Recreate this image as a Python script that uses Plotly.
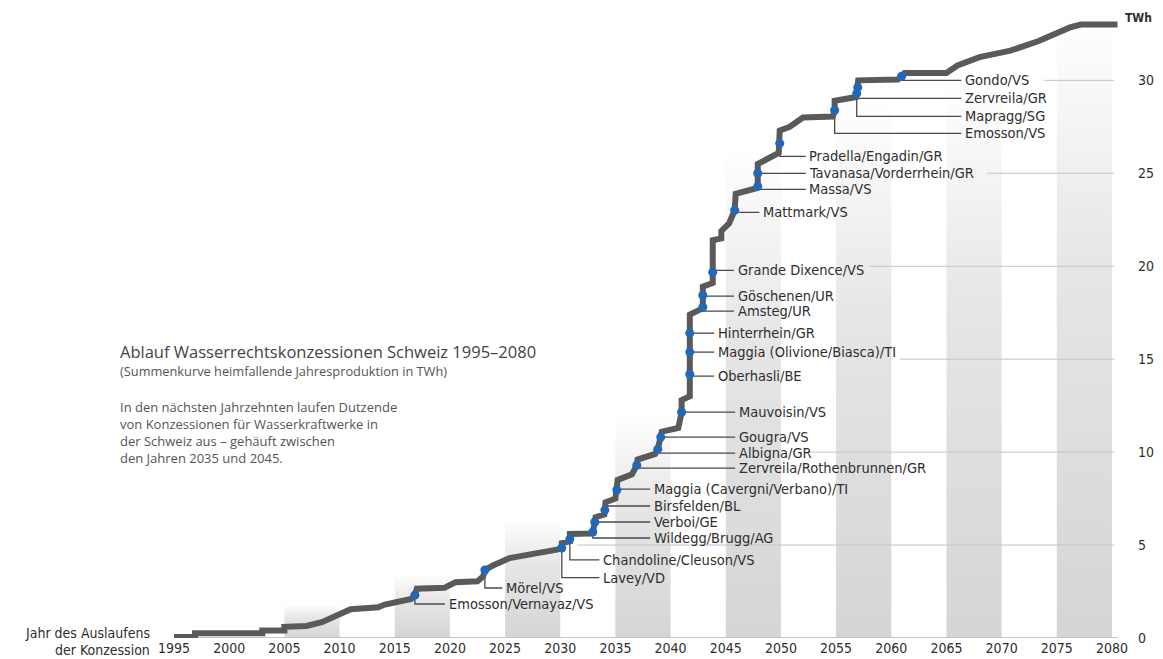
import plotly.graph_objects as go

# ---------------- data ----------------
curve_years = [1995.0, 1996.9, 1996.9, 2003.0, 2003.0, 2005.0, 2005.0, 2007.0, 2008.4, 2009.6,
               2011.0, 2012.3, 2013.5, 2014.1, 2015.9, 2016.5, 2016.83, 2017.0, 2019.5, 2020.0,
               2020.5, 2022.5, 2023.0, 2023.17, 2023.9, 2025.4, 2028.2, 2029.7, 2030.14, 2030.14,
               2030.87, 2030.87, 2030.87, 2032.8, 2032.95, 2033.13, 2033.2, 2034.0, 2034.04, 2034.1,
               2035.0, 2035.13, 2035.2, 2036.5, 2036.94, 2037.0, 2038.6, 2038.84, 2039.11, 2039.2,
               2040.7, 2041.0, 2041.0, 2041.74, 2041.74, 2041.74, 2041.74, 2041.74, 2042.8, 2042.92,
               2042.92, 2042.92, 2043.82, 2043.82, 2043.82, 2044.6, 2044.6, 2045.3, 2045.81, 2045.9,
               2047.8, 2047.9, 2047.9, 2047.9, 2049.8, 2049.89, 2049.89, 2050.8, 2052.0, 2054.7,
               2054.87, 2054.87, 2056.8, 2056.87, 2056.96, 2057.0, 2060.6, 2060.94, 2061.2, 2065.0,
               2066.0, 2068.0, 2070.8, 2073.3, 2074.7, 2076.2, 2077.2, 2080.5]
curve_twh = [0.05, 0.05, 0.25, 0.25, 0.4, 0.4, 0.6, 0.65, 0.85, 1.15,
             1.55, 1.6, 1.65, 1.8, 2.05, 2.1, 2.31, 2.65, 2.7, 2.85,
             3.0, 3.05, 3.3, 3.66, 3.9, 4.3, 4.57, 4.75, 4.84, 5.1,
             5.2, 5.32, 5.6, 5.62, 5.7, 6.24, 6.5, 6.65, 6.88, 7.3,
             7.5, 7.96, 8.5, 8.8, 9.3, 9.6, 9.9, 10.16, 10.81, 11.1,
             11.3, 12.15, 12.8, 13.0, 14.19, 15.38, 16.4, 17.4, 17.7, 17.8,
             18.44, 18.9, 19.1, 19.68, 21.4, 21.5, 21.9, 22.3, 23.01, 23.9,
             24.2, 24.3, 25.0, 25.5, 26.1, 26.61, 27.3, 27.5, 28.0, 28.05,
             28.39, 28.9, 29.1, 29.3, 29.62, 30.0, 30.05, 30.22, 30.4, 30.4,
             30.8, 31.25, 31.6, 32.1, 32.5, 32.85, 33.0, 33.0]

plant_names = ["Emosson/Vernayaz/VS", "Mörel/VS", "Lavey/VD", "Chandoline/Cleuson/VS",
               "Wildegg/Brugg/AG", "Verboi/GE", "Birsfelden/BL", "Maggia (Cavergni/Verbano)/TI",
               "Zervreila/Rothenbrunnen/GR", "Albigna/GR", "Gougra/VS", "Mauvoisin/VS",
               "Oberhasli/BE", "Maggia (Olivione/Biasca)/TI", "Hinterrhein/GR", "Amsteg/UR",
               "Göschenen/UR", "Grande Dixence/VS", "Mattmark/VS", "Massa/VS",
               "Tavanasa/Vorderrhein/GR", "Pradella/Engadin/GR", "Emosson/VS", "Mapragg/SG",
               "Zervreila/GR", "Gondo/VS"]
plant_years = [2016.83, 2023.17, 2030.14, 2030.87, 2032.95, 2033.13, 2034.04, 2035.13,
               2036.94, 2038.84, 2039.11, 2041.0, 2041.74, 2041.74, 2041.74, 2042.92,
               2042.92, 2043.82, 2045.81, 2047.9, 2047.9, 2049.89, 2054.87, 2056.87,
               2056.96, 2060.94]
plant_twh = [2.31, 3.66, 4.84, 5.32, 5.7, 6.24, 6.88, 7.96,
             9.3, 10.16, 10.81, 12.15, 14.19, 15.38, 16.4, 17.8,
             18.44, 19.68, 23.01, 24.3, 25.0, 26.61, 28.39, 29.3,
             29.62, 30.22]

x_ticks = [1995, 2000, 2005, 2010, 2015, 2020, 2025, 2030, 2035, 2040,
           2045, 2050, 2055, 2060, 2065, 2070, 2075, 2080]
y_ticks = [0, 5, 10, 15, 20, 25, 30]

# ---------------- layout helpers (positions, not data) ----------------
label_years = [2019.7, 2024.9, 2033.7, 2033.7, 2038.3, 2038.3, 2038.3, 2038.3,
               2046.0, 2046.0, 2046.0, 2046.0, 2044.1, 2044.1, 2044.1, 2045.9,
               2045.9, 2045.9, 2048.2, 2052.4, 2052.4, 2052.4, 2066.5, 2066.5,
               2066.5, 2066.5]
label_twh = [1.83, 2.69, 3.25, 4.2, 5.38, 6.24, 7.1, 8.01,
             9.14, 9.95, 10.81, 12.15, 14.09, 15.38, 16.4, 17.58,
             18.39, 19.78, 22.9, 24.14, 25.0, 25.91, 27.15, 28.06,
             29.03, 30.0]
band_starts = [2005, 2015, 2025, 2035, 2045, 2055, 2065, 2075]
band_tops = [1.8, 3.4, 6.5, 12.0, 26.5, 29.0, 30.0, 33.5]
grid_levels = [5, 10, 15, 20, 25, 30]
grid_from = [2031.5, 2052.6, 2060.8, 2058.0, 2068.7, 2073.8]

W, H = 1163, 659
ML, MR, MT, MB = 163, 40, 6, 21
PW, PH = W - ML - MR, H - MT - MB


def px(x):
    return (x - ML) / PW


def py(y):
    return (H - MB - y) / PH


COND = "Liberation Sans Narrow, DejaVu Sans Condensed, Arial Narrow, sans-serif"
HUM = "Open Sans, Noto Sans, sans-serif"

fig = go.Figure()

# gray bands with fading gradient
for bs, bt in zip(band_starts, band_tops):
    fig.add_trace(go.Scatter(
        x=[bs, bs, bs + 5, bs + 5, bs], y=[0, bt, bt, 0, 0],
        mode="lines", line=dict(width=0), fill="toself",
        fillgradient=dict(type="vertical", start=0, stop=bt,
                          colorscale=[[0, "#d5d5d5"], [0.6, "#e6e6e6"], [1, "#ffffff"]]),
        hoverinfo="skip", showlegend=False))

# light grid lines (start right of the labels)
for lv, gx in zip(grid_levels, grid_from):
    fig.add_trace(go.Scatter(x=[gx, 2080.2], y=[lv, lv], mode="lines",
                             line=dict(color="#b9c5d6", width=1),
                             hoverinfo="skip", showlegend=False))

# baseline
fig.add_trace(go.Scatter(x=[1995, 2080.5], y=[0, 0], mode="lines",
                         line=dict(color="#c4c4c4", width=2), cliponaxis=False,
                         hoverinfo="skip", showlegend=False))

# leader lines
lx, ly = [], []
for dx, dv, tx, tv in zip(plant_years, plant_twh, label_years, label_twh):
    lx += [dx, dx, tx - 0.15, None]
    ly += [dv, tv, tv, None]
fig.add_trace(go.Scatter(x=lx, y=ly, mode="lines", line=dict(color="#4a4a4a", width=1.3),
                         hoverinfo="skip", showlegend=False))

# cumulative curve
fig.add_trace(go.Scatter(x=curve_years, y=curve_twh, mode="lines",
                         line=dict(color="#5a5a5a", width=6), cliponaxis=False,
                         showlegend=False))

# blue markers
fig.add_trace(go.Scatter(x=plant_years, y=plant_twh, mode="markers",
                         marker=dict(color="#2268b8", size=9), text=plant_names,
                         hoverinfo="text", showlegend=False))

annotations = []
for name, tx, tv in zip(plant_names, label_years, label_twh):
    annotations.append(dict(x=tx, y=tv, xref="x", yref="y", text=name, showarrow=False,
                            xanchor="left", yanchor="middle",
                            font=dict(family=COND, size=14.5, color="#2e2e2e")))

annotations += [
    dict(x=px(118), y=py(351), xref="paper", yref="paper", xanchor="left", yanchor="middle",
         text="Ablauf Wasserrechtskonzessionen Schweiz 1995–2080", showarrow=False,
         font=dict(family=HUM, size=16.5, color="#444444")),
    dict(x=px(118), y=py(371), xref="paper", yref="paper", xanchor="left", yanchor="middle",
         text="(Summenkurve heimfallende Jahresproduktion in TWh)", showarrow=False,
         font=dict(family=HUM, size=12.8, color="#555555")),
    dict(x=px(118), y=py(396), xref="paper", yref="paper", xanchor="left", yanchor="top",
         align="left", showarrow=False,
         text="In den nächsten Jahrzehnten laufen Dutzende<br>von Konzessionen für Wasserkraftwerke in"
              "<br>der Schweiz aus – gehäuft zwischen<br>den Jahren 2035 und 2045.",
         font=dict(family=HUM, size=13, color="#555555")),
    dict(x=px(152), y=py(633), xref="paper", yref="paper", xanchor="right", yanchor="middle",
         text="Jahr des Auslaufens", showarrow=False,
         font=dict(family=COND, size=14, color="#2e2e2e")),
    dict(x=px(152), y=py(650), xref="paper", yref="paper", xanchor="right", yanchor="middle",
         text="der Konzession", showarrow=False,
         font=dict(family=COND, size=14, color="#2e2e2e")),
    dict(x=px(1138), y=py(18), xref="paper", yref="paper", xanchor="center", yanchor="middle",
         text="<b>TWh</b>", showarrow=False,
         font=dict(family=COND, size=12, color="#2e2e2e")),
]

fig.update_layout(
    width=W, height=H,
    margin=dict(l=ML, r=MR, t=MT, b=MB, autoexpand=False),
    paper_bgcolor="white", plot_bgcolor="white",
    showlegend=False,
    annotations=annotations,
    xaxis=dict(range=[1994.0, 2081.0], tickvals=x_ticks, ticks="", showgrid=False,
               zeroline=False, showline=False,
               tickfont=dict(family=COND, size=14, color="#2e2e2e")),
    yaxis=dict(range=[0, 34], tickvals=y_ticks, side="right", ticks="", showgrid=False,
               zeroline=False, showline=False, ticklabelstandoff=14,
               tickfont=dict(family=COND, size=14, color="#2e2e2e")),
)

fig.write_html(
    "out.html",
    config={"displayModeBar": False},
    post_script="document.body.style.margin='0px';"
                "document.body.style.overflow='hidden';"
                "document.documentElement.style.overflow='hidden';",
)
